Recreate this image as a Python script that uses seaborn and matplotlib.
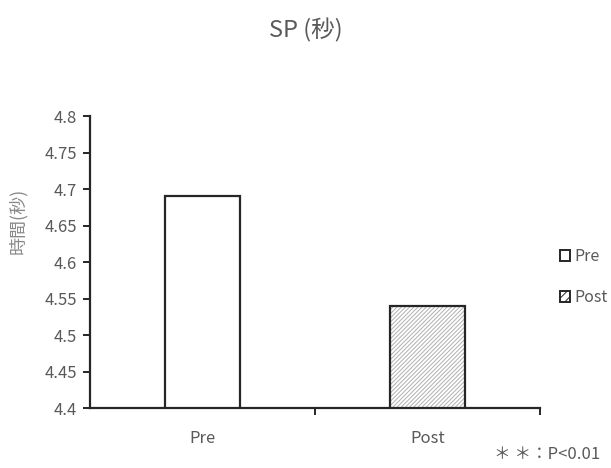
import matplotlib
matplotlib.use("Agg")
import matplotlib.pyplot as plt
import seaborn as sns
import pandas as pd
from matplotlib.patches import Patch

# データ
groups = ["Pre", "Post"]
sp_values = [4.69, 4.54]
y_ticks = [4.4, 4.45, 4.5, 4.55, 4.6, 4.65, 4.7, 4.75, 4.8]
y_tick_labels = ["4.4", "4.45", "4.5", "4.55", "4.6", "4.65", "4.7", "4.75", "4.8"]

df = pd.DataFrame({"group": groups, "value": sp_values})

sns.set_style("white")
plt.rcParams["font.family"] = ["Noto Sans CJK JP", "DejaVu Sans"]
plt.rcParams["hatch.linewidth"] = 0.7

fig = plt.figure(figsize=(6.11, 4.68), dpi=100)
ax = fig.add_axes([0.147, 0.128, 0.737, 0.624])

# 塗り (Post はハッチング)
sns.barplot(data=df, x="group", y="value", ax=ax, width=0.33,
            color="white", edgecolor="#b0b0b0", linewidth=0)
ax.patches[1].set_hatch("////////")
ax.patches[0].set_hatch(None)
# 枠線
sns.barplot(data=df, x="group", y="value", ax=ax, width=0.33,
            fill=False, edgecolor="#262626", linewidth=1.6)

ax.set_xlim(-0.5, 1.5)
ax.set_ylim(4.4, 4.8)
ax.set_yticks(y_ticks)
ax.set_yticklabels(y_tick_labels)
ax.set_xlabel("")
ax.set_ylabel("時間(秒)", color="#8a8a8a", fontsize=13)
ax.yaxis.set_label_coords(-0.14, 0.64)

for s in ["top", "right"]:
    ax.spines[s].set_visible(False)
for s in ["left", "bottom"]:
    ax.spines[s].set_color("#262626")
    ax.spines[s].set_linewidth(1.6)

ax.tick_params(axis="y", direction="out", length=5, width=1.4, color="#262626",
               labelsize=12, labelcolor="#595959", left=True, pad=4)
ax.tick_params(axis="x", which="major", length=0, labelsize=12,
               labelcolor="#595959", pad=16)
ax.set_xticks([0.5, 1.5], minor=True)
ax.tick_params(axis="x", which="minor", direction="out", length=5, width=1.4,
               color="#262626", bottom=True)

fig.suptitle("SP (秒)", x=0.5, y=0.936, va="center", fontsize=17, color="#595959")

handles = [Patch(facecolor="white", edgecolor="#262626", linewidth=1.4),
           Patch(facecolor="white", edgecolor="#262626", linewidth=1.4, hatch="////")]
fig.legend(handles, groups, loc="upper left", bbox_to_anchor=(0.893, 0.50),
           frameon=False, fontsize=11.5, labelcolor="#595959",
           handlelength=0.65, handleheight=0.65, handletextpad=0.25,
           labelspacing=1.5)

fig.text(0.982, 0.028, "＊ ＊：P<0.01", ha="right", va="center",
         fontsize=12, color="#595959")

fig.savefig("out.png", dpi=100)
